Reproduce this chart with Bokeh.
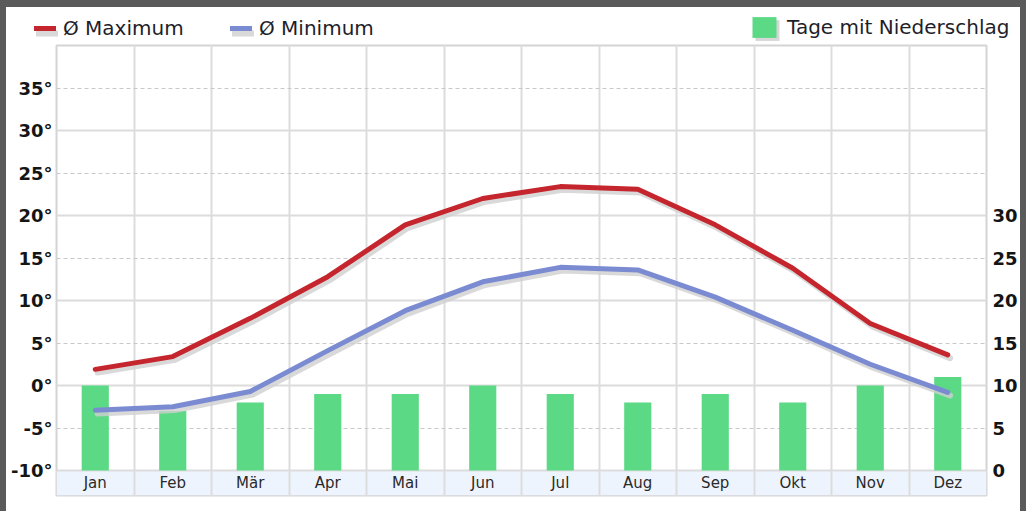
from bokeh.plotting import figure
from bokeh.layouts import column, row
from bokeh.models import (Range1d, LinearAxis, FixedTicker, PrintfTickFormatter,
                          Legend, LegendItem, Grid, BoxAnnotation, Spacer)
from bokeh.transform import dodge
from bokeh.core.properties import value
from bokeh.embed import file_html
from bokeh.resources import INLINE

# ---------------- data ----------------
months = ["Jan", "Feb", "Mär", "Apr", "Mai", "Jun", "Jul", "Aug", "Sep", "Okt", "Nov", "Dez"]
t_max = [1.9, 3.4, 7.9, 12.8, 18.9, 22.0, 23.4, 23.1, 18.9, 13.8, 7.3, 3.6]
t_min = [-2.9, -2.5, -0.7, 4.1, 8.8, 12.2, 13.9, 13.6, 10.4, 6.5, 2.5, -0.8]
rain_days = [10, 7, 8, 9, 9, 10, 9, 8, 9, 8, 10, 11]
temp_ticks = [-10, -5, 0, 5, 10, 15, 20, 25, 30, 35]
day_ticks = [0, 5, 10, 15, 20, 25, 30]
temp_top = 40
label_max = "Ø Maximum"
label_min = "Ø Minimum"
label_rain = "Tage mit Niederschlag"

# ---------------- styles ----------------
RED = "#c5262d"
BLUE = "#7b8bd1"
GREEN = "#5bd985"
SHADOW = "#cfcfcf"
GRID = "#dcdcdc"
DARK = "#5a5a5a"
FONT = "DejaVu Sans"
W = 1014

px_per_deg = 8.5
band_px = 25
y_start = temp_ticks[0] - band_px / px_per_deg
x_centers = [i + 0.5 for i in range(len(months))]
band_y = (y_start + temp_ticks[0]) / 2

# ================= main chart =================
p = figure(width=W, height=466, title=None,
           x_range=Range1d(0, len(months)), y_range=Range1d(y_start, temp_top),
           output_backend="svg", toolbar_location=None,
           min_border_left=50, min_border_top=1, min_border_right=32, min_border_bottom=15,
           background_fill_color="white", border_fill_color="white")
p.frame_align = False
p.extra_y_ranges = {"days": Range1d(y_start - temp_ticks[0], temp_top - temp_ticks[0])}

p.xaxis.visible = False
p.outline_line_color = "#d4d4d4"
p.outline_line_width = 2

ya = p.yaxis[0]
ya.ticker = FixedTicker(ticks=temp_ticks)
ya.formatter = PrintfTickFormatter(format="%d°")
ra = LinearAxis(y_range_name="days", ticker=FixedTicker(ticks=day_ticks))
p.add_layout(ra, "right")
for ax in (ya, ra):
    ax.axis_line_color = None
    ax.major_tick_line_color = None
    ax.minor_tick_line_color = None
    ax.major_tick_out = 0
    ax.major_tick_in = 0
    ax.minor_tick_out = 0
    ax.major_label_text_font = FONT
    ax.major_label_text_font_style = "bold"
    ax.major_label_text_font_size = "18px"
    ax.major_label_text_color = "#151515"
ya.major_label_standoff = 4
ra.major_label_standoff = 6

p.xgrid[0].ticker = FixedTicker(ticks=list(range(len(months) + 1)))
p.xgrid[0].grid_line_color = GRID
p.xgrid[0].grid_line_width = 2
p.ygrid[0].ticker = FixedTicker(ticks=[t for t in temp_ticks if t % 10 == 0])
p.ygrid[0].grid_line_color = GRID
p.ygrid[0].grid_line_width = 2
p.add_layout(Grid(dimension=1, ticker=FixedTicker(ticks=[t for t in temp_ticks if t % 10 != 0]),
                  grid_line_color="#c9c9c9", grid_line_width=1, grid_line_dash="4 3"))

p.add_layout(BoxAnnotation(top=temp_ticks[0], fill_color="#eef4fd", fill_alpha=1,
                           line_color=None, level="image"))

p.vbar(x=x_centers, top=rain_days, bottom=0, width=0.35, y_range_name="days",
       fill_color=GREEN, line_color=None)

src = dict(x=x_centers, tmax=t_max, tmin=t_min)
for col in ("tmax", "tmin"):
    p.line(x=dodge("x", 0.03), y=dodge(col, -0.38), source=src,
           line_color=SHADOW, line_width=6, line_alpha=0.8, line_join="round", line_cap="round")
p.line(x="x", y="tmax", source=src, line_color=RED, line_width=5,
       line_join="round", line_cap="round")
p.line(x="x", y="tmin", source=src, line_color=BLUE, line_width=5,
       line_join="round", line_cap="round")

p.text(x=x_centers, y=[band_y] * len(months), text=months, text_align="center",
       text_baseline="middle", text_font=value(FONT), text_font_size="15px",
       text_color="#2a2a2a")

# ================= legend strip =================
lg = figure(width=W, height=37, title=None, output_backend="svg", toolbar_location=None,
            x_range=Range1d(0, 1), y_range=Range1d(0, 1),
            x_axis_location=None, y_axis_location=None,
            min_border=0, min_border_left=0, min_border_right=0,
            min_border_top=0, min_border_bottom=0,
            outline_line_color=None, background_fill_color="white",
            border_fill_color="white")
lg.frame_align = False
lg.grid.visible = False

nan = [float("nan")]
k_max = lg.line(x=nan, y=nan, line_color=RED, line_width=5, line_cap="round")
k_min = lg.line(x=nan, y=nan, line_color=BLUE, line_width=5, line_cap="round")
k_bar = lg.vbar(x=nan, top=nan, width=1, fill_color=GREEN, line_color=None)
s_line = lg.line(x=nan, y=nan, line_color=SHADOW, line_width=6, line_alpha=0.8, line_cap="round")
s_bar = lg.vbar(x=nan, top=nan, width=1, fill_color="#d6d6d6", line_color=None)


def add_legend(fig, label, rend, loc, gw, gh, standoff, hidden=False):
    leg = Legend(items=[LegendItem(label=label, renderers=[rend])], location=loc,
                 orientation="horizontal", padding=0, margin=0, spacing=0,
                 glyph_width=gw, glyph_height=gh, label_standoff=standoff,
                 label_height=20, label_text_font=FONT, label_text_font_size="20px",
                 label_text_color="#1e1e2a", border_line_color=None,
                 background_fill_alpha=0)
    if hidden:
        leg.label_text_alpha = 0
    fig.add_layout(leg)


vy = 4
add_legend(lg, " ", s_line, (30, vy - 3), 22, 20, 7, True)
add_legend(lg, " ", s_line, (226, vy - 3), 22, 20, 7, True)
add_legend(lg, " ", s_bar, (746, vy - 3), 30, 26, 8, True)
add_legend(lg, label_max, k_max, (28, vy), 22, 20, 7)
add_legend(lg, label_min, k_min, (224, vy), 22, 20, 7)
add_legend(lg, label_rain, k_bar, (743, vy), 30, 26, 8)

# dark frame of the page
left_bar = Spacer(width=6, height=511, margin=0, styles={"background-color": DARK})
right_bar = Spacer(width=6, height=511, margin=0, styles={"background-color": DARK})
top_bar = Spacer(width=W, height=7, margin=0, styles={"background-color": DARK})

layout = row(left_bar, column(top_bar, lg, p, spacing=0), right_bar, spacing=0)
open("out.html", "w").write(file_html(layout, INLINE))
